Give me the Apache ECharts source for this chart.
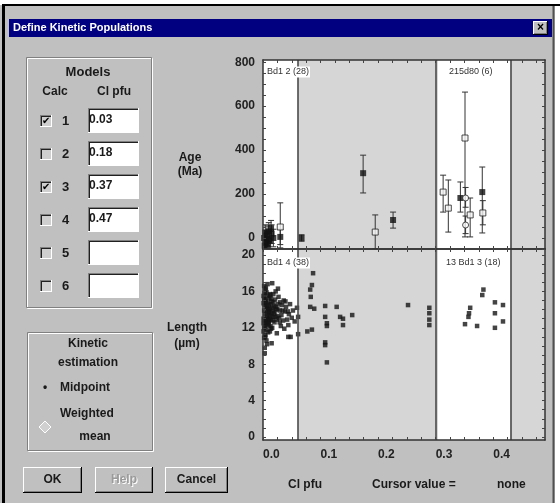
<!DOCTYPE html>
<html><head><meta charset="utf-8">
<script src="https://cdn.jsdelivr.net/npm/echarts@6/dist/echarts.min.js"></script>
<style>html,body{margin:0;padding:0;background:#fff}#c{width:560px;height:503px}</style>
</head><body><div id="c"></div>
<script>
// ---------- data ----------
const xTicks = [0, 0.1, 0.2, 0.3, 0.4];
const xTickMarks = [0,0.025,0.05,0.075,0.1,0.125,0.15,0.175,0.2,0.225,0.25,0.275,0.3,0.325,0.35,0.375,0.4,0.425,0.45,0.475];
const ageTicks = [0, 200, 400, 600, 800];
const ageTickMarks = [-50,0,50,100,150,200,250,300,350,400,450,500,550,600,650,700,750,800];
const lenTicks = [0, 4, 8, 12, 16, 20];
const lenTickMarks = [0,1,2,3,4,5,6,7,8,9,10,11,12,13,14,15,16,17,18,19,20];
const bounds = [0.061, 0.304, 0.43];
const modelCalc = [true, false, true, false, false, false];
const modelClpfu = ['0.03', '0.18', '0.37', '0.47', '', ''];
const plotLabels = ['Bd1 2 (28)', '215d80 (6)', 'Bd1 4 (38)', '13 Bd1 3 (18)'];

// Age panel: Cl apfu, age (Ma), lower, upper, marker kind (f filled, o open square, c open circle)
const ageX    = [0.002,0.004,0.005,0.007,0.009,0.010,0.012,0.014,0.015,0.018,0.003,0.008,0.030,0.030,0.067,0.174,0.195,0.226,0.313,0.322,0.343,0.351,0.352,0.352,0.360,0.381,0.382];
const ageVal  = [0,25,-20,15,-30,30,-10,45,20,0,-35,-5,50,5,0,295,27,82,209,136,182,455,182,59,105,209,114];
const ageLo   = [-45,-10,-50,-35,-50,-15,-50,5,-25,-40,-50,-40,-45,-30,-15,205,-50,45,118,27,118,5,140,20,5,23,60];
const ageHi   = [35,60,20,55,0,70,30,80,60,40,-5,30,160,40,15,377,105,118,286,264,255,664,230,100,182,323,170];
const ageKind = ['f','f','f','f','f','f','f','f','f','f','f','f','o','f','f','f','o','f','o','o','f','o','c','c','o','f','o'];

// Length panel: Cl apfu, track length (um)
const lenX = [0.002,0.004,0.003,0.006,0.008,0.002,0.005,0.009,0.011,0.013,0.003,0.006,0.008,0.010,0.012,0.015,0.002,0.004,0.007,0.009,0.011,0.014,0.017,0.003,0.005,0.008,0.010,0.013,0.002,0.006,0.009,0.004,0.012,0.016,0.019,0.021,0.023,0.025,0.020,0.018,0.027,0.030,0.029,0.033,0.036,0.032,0.035,0.038,0.040,0.042,0.045,0.047,0.050,0.052,0.044,0.037,0.055,0.048,0.015,0.003,0.003,0.006,0.002,0.022,0.026,0.016,0.008,0.031,0.024,0.001,0.001,
  0.001,0.003,0.005,0.007,0.009,0.011,0.013,0.015,0.017,0.019,0.001,0.004,0.006,0.008,0.010,0.012,0.014,0.016,0.018,0.020,0.022,0.024,0.026,0.028,0.005,0.007,0.011,0.013,0.017,0.021,0.025,0.029,0.034,0.039,0.043,0.001,0.004,0.007,0.010,0.014,
  0.087,0.085,0.082,0.083,0.082,0.089,0.108,0.128,0.108,0.111,0.111,0.134,0.139,0.139,0.155,0.077,0.085,0.061,0.061,0.059,0.108,0.108,0.111,0.044,
  0.252,0.289,0.289,0.289,0.289,0.383,0.381,0.360,0.358,0.357,0.351,0.372,0.403,0.417,0.403,0.417,0.403];
const lenY = [16.6,16.2,15.8,15.9,15.5,15.2,15.0,14.8,15.3,14.6,14.5,14.2,14.0,13.8,14.1,13.6,13.9,13.5,13.2,13.0,13.4,12.9,13.2,12.8,12.5,12.3,12.7,12.2,12.0,11.8,11.5,11.2,11.6,12.0,14.4,15.1,14.0,13.3,12.6,15.7,15.4,14.8,13.9,14.5,15.0,13.4,12.8,13.8,14.3,12.9,13.5,14.6,13.1,13.9,12.3,11.9,12.7,11.0,10.3,9.8,9.2,10.6,10.9,16.0,16.3,16.9,16.8,12.2,11.4,14.7,13.0,
  15.5,15.1,14.7,14.4,14.1,13.7,13.3,14.9,13.9,13.5,12.5,12.2,13.0,12.6,14.5,15.7,15.2,14.2,14.8,13.7,14.3,12.9,14.6,13.1,16.4,13.6,12.9,15.6,12.8,13.2,14.1,12.6,13.9,14.9,13.8,11.6,11.0,10.2,12.4,11.9,
  18.0,16.7,16.2,15.4,14.3,14.1,14.4,14.3,13.2,12.5,12.2,13.2,13.0,12.3,13.4,11.6,11.8,11.3,13.2,14.2,10.4,10.1,8.2,11.0,
  14.5,14.2,13.6,12.9,12.3,16.2,15.6,14.2,13.6,13.2,12.4,12.2,14.8,14.5,13.6,12.7,12.0];

// ---------- drawing ----------
const F = '"Liberation Sans", Arial, sans-serif';
const g = [];
function rect(x,y,w,h,fill,stroke,lw,z){ g.push({type:'rect',z:z||1,shape:{x:x,y:y,width:w,height:h},style:{fill:fill||'none',stroke:stroke||null,lineWidth:lw||1},silent:true}); }
function line(x1,y1,x2,y2,c,w,z){ g.push({type:'line',z:z||2,shape:{x1:x1,y1:y1,x2:x2,y2:y2},style:{stroke:c,lineWidth:w||1},silent:true}); }
function text(t,x,y,o){ o=o||{}; const st={text:t,fill:o.c||'#1a1a1a',font:(o.w||'bold')+' '+(o.s||12)+'px '+F,align:o.a||'left',verticalAlign:'middle'}; if(o.bg){st.backgroundColor=o.bg;st.padding=[1,1];} g.push({type:'text',z:o.z||3,x:x,y:y,style:st,silent:true}); }
function etched(x,y,w,h){ rect(x+1.5,y+1.5,w,h,null,'#ffffff',1); rect(x+0.5,y+0.5,w,h,null,'#808080',1); }
function sunken(x,y,w,h,fill){ rect(x,y,w,h,fill,null); line(x,y+0.5,x+w,y+0.5,'#808080'); line(x+0.5,y,x+0.5,y+h,'#808080'); line(x+1,y+1.5,x+w-1,y+1.5,'#202020'); line(x+1.5,y+1,x+1.5,y+h-1,'#202020'); line(x,y+h-0.5,x+w,y+h-0.5,'#ffffff'); line(x+w-0.5,y,x+w-0.5,y+h,'#ffffff'); }
function raised(x,y,w,h){ rect(x,y,w,h,'#c0c0c0',null); line(x,y+0.5,x+w,y+0.5,'#ffffff'); line(x+0.5,y,x+0.5,y+h,'#ffffff'); line(x,y+h-0.5,x+w,y+h-0.5,'#000'); line(x+w-0.5,y,x+w-0.5,y+h,'#000'); line(x+1,y+h-1.5,x+w-1,y+h-1.5,'#808080'); line(x+w-1.5,y+1,x+w-1.5,y+h-1,'#808080'); }

// window frame
rect(0,0,560,5,'#ffffff');
rect(2,4,558,2,'#000000');
rect(2,4,3,499,'#000000');
rect(555,6,5,497,'#ffffff');
line(553.5,6,553.5,503,'#505050',2);
// title bar
rect(9,19,543,18,'#000080');
text('Define Kinetic Populations',13,28,{c:'#ffffff',s:11});
raised(533,21,15,14);
text('\u00d7',540.5,28,{a:'center',s:12,c:'#000'});

// Models group
etched(26,57,125,250);
text('Models',88,72,{a:'center',s:13});
text('Calc',55,92,{a:'center'});
text('Cl pfu',114,92,{a:'center'});
for (let i=0;i<6;i++){
  const cy = 121 + i*33;
  sunken(40,cy-6,12,12,'#cfcfcf');
  if (modelCalc[i]) text('\u2714',46,cy,{a:'center',s:10,w:'normal',c:'#000'});
  text(String(i+1),62,cy,{s:13});
  sunken(88,cy-13,51,25,'#ffffff');
  if (modelClpfu[i]) text(modelClpfu[i],89,cy-1,{s:12});
}
text('Age',190,158,{a:'center'});
text('(Ma)',190,172,{a:'center'});
text('Length',187,328,{a:'center'});
text('(\u00b5m)',187,344,{a:'center'});

// Kinetic estimation group
etched(27,332,125,118);
text('Kinetic',88,344,{a:'center'});
text('estimation',88,363,{a:'center'});
text('\u2022',45,388,{a:'center',s:12});
text('Midpoint',60,388,{});
text('Weighted',60,414,{});
text('mean',95,437,{a:'center'});
g.push({type:'polygon',z:2,shape:{points:[[45,421],[51,427],[45,433],[39,427]]},style:{fill:'#d0d0d0',stroke:'#ffffff',lineWidth:1},silent:true});

// buttons
raised(23,467,59,26); text('OK',52.5,480,{a:'center'});
raised(95,467,58,26); text('Help',125,481,{a:'center',c:'#ffffff'}); text('Help',124,480,{a:'center',c:'#9a9a9a'});
raised(165,467,63,26); text('Cancel',196.5,480,{a:'center'});

// bottom status
text('Cl pfu',288,485,{});
text('Cursor value =',372,485,{});
text('none',497,485,{});

// plot annotations
text(plotLabels[0],266,72,{s:9,w:'normal',c:'#333',bg:'#ffffff',z:50});
text(plotLabels[1],448,72,{s:9,w:'normal',c:'#333',bg:'#ffffff',z:50});
text(plotLabels[2],266,263,{s:9,w:'normal',c:'#333',bg:'#ffffff',z:50});
text(plotLabels[3],445,263,{s:9,w:'normal',c:'#333',bg:'#ffffff',z:50});

const lab = {color:'#222',fontWeight:'bold',fontSize:12,fontFamily:F};
function xAx(gi,pos,showLab){
  return {type:'value',gridIndex:gi,position:pos,min:0,max:0.49,z:10,
    axisLine:{show:true,onZero:false,lineStyle:{color:'#333',width:1.5}},
    axisTick:{show:true,inside:true,length:3,customValues:xTickMarks,lineStyle:{color:'#444'}},
    axisLabel:Object.assign({show:showLab,customValues:xTicks,formatter:v=>v.toFixed(1),align:'left',margin:9},lab),
    splitLine:{show:false}};
}
function yAx(gi,pos,mn,mx,labs,marks,showLab){
  return {type:'value',gridIndex:gi,position:pos,min:mn,max:mx,z:10,
    axisLine:{show:true,onZero:false,lineStyle:{color:'#333',width:1.5}},
    axisTick:{show:true,inside:true,length:3,customValues:marks,lineStyle:{color:'#444'}},
    axisLabel:Object.assign({show:showLab,customValues:labs,margin:8},lab),
    splitLine:{show:false}};
}
const bandArea = {silent:true,itemStyle:{color:'#ffffff'},data:[[{xAxis:0},{xAxis:bounds[0]}],[{xAxis:bounds[1]},{xAxis:bounds[2]}]]};
const bandLines = {silent:true,symbol:['none','none'],label:{show:false},lineStyle:{color:'#4a4a4a',width:1.6,type:'solid'},data:bounds.map(b=>({xAxis:b}))};

function renderErr(params, api){
  const x=api.value(0), lo=api.value(1), hi=api.value(2);
  const a=api.coord([x,hi]), b=api.coord([x,lo]);
  const w=3, st={stroke:'#333',lineWidth:1};
  return {type:'group',children:[
    {type:'line',shape:{x1:a[0],y1:a[1],x2:b[0],y2:b[1]},style:st},
    {type:'line',shape:{x1:a[0]-w,y1:a[1],x2:a[0]+w,y2:a[1]},style:st},
    {type:'line',shape:{x1:b[0]-w,y1:b[1],x2:b[0]+w,y2:b[1]},style:st}]};
}
function agePts(kind){ const d=[]; for(let i=0;i<ageX.length;i++) if(ageKind[i]===kind) d.push([ageX[i],ageVal[i]]); return d; }
const errData = ageX.map((x,i)=>[x,ageLo[i],ageHi[i]]);
const lenData = lenX.map((x,i)=>[x,lenY[i]]);

const option = {
  backgroundColor:'#c0c0c0',
  animation:false,
  grid:[
    {left:263,top:60,width:282,height:189,show:true,backgroundColor:'#d6d6d6',borderWidth:0},
    {left:263,top:249,width:282,height:191,show:true,backgroundColor:'#d6d6d6',borderWidth:0}
  ],
  xAxis:[xAx(0,'bottom',false),xAx(0,'top',false),xAx(1,'bottom',true),xAx(1,'top',false)],
  yAxis:[yAx(0,'left',-50,810,ageTicks,ageTickMarks,true),yAx(0,'right',-50,810,ageTicks,ageTickMarks,false),
         yAx(1,'left',-0.33,20.66,lenTicks,lenTickMarks,true),yAx(1,'right',-0.33,20.66,lenTicks,lenTickMarks,false)],
  graphic:{elements:g},
  series:[
    {type:'custom',xAxisIndex:0,yAxisIndex:0,renderItem:renderErr,data:errData,encode:{x:0,y:[1,2]},clip:true,z:3},
    {type:'scatter',xAxisIndex:0,yAxisIndex:0,data:agePts('f'),symbol:'rect',symbolSize:6,itemStyle:{color:'#111'},z:4,clip:true,
      markArea:bandArea,markLine:bandLines},
    {type:'scatter',xAxisIndex:0,yAxisIndex:0,data:agePts('o'),symbol:'rect',symbolSize:6,itemStyle:{color:'#f4f4f4',borderColor:'#222',borderWidth:1},z:4},
    {type:'scatter',xAxisIndex:0,yAxisIndex:0,data:agePts('c'),symbol:'circle',symbolSize:6,itemStyle:{color:'#ffffff',borderColor:'#222',borderWidth:1},z:4},
    {type:'scatter',xAxisIndex:2,yAxisIndex:2,data:lenData,symbol:'rect',symbolSize:4.5,itemStyle:{color:'#151515'},z:4,
      markArea:bandArea,markLine:bandLines}
  ]
};
const chart = echarts.init(document.getElementById('c'),null,{renderer:'canvas'});
chart.setOption(option);
</script></body></html>
